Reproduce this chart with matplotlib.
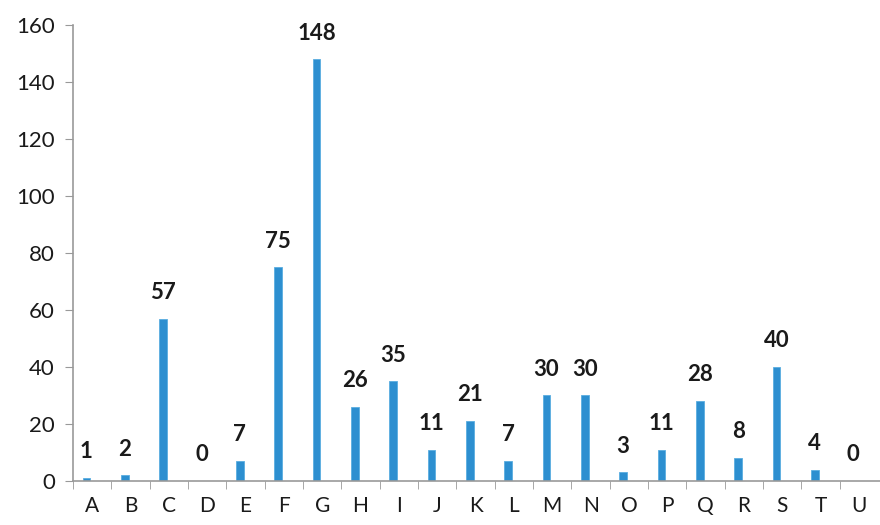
import matplotlib
matplotlib.use('Agg')
import matplotlib.pyplot as plt
import numpy as np

# categories and values
categories = list('ABCDEFGHIJKLMNOPQRSTU')
values = [1, 2, 57, 0, 7, 75, 148, 26, 35, 11, 21, 7, 30, 30, 3, 11, 28, 8, 40, 4, 0]
yticks = [0, 20, 40, 60, 80, 100, 120, 140, 160]

plt.rcParams['font.family'] = ['Lato', 'DejaVu Sans']

fig = plt.figure(figsize=(8.8, 5.25), dpi=100)
ax = fig.add_axes([0.083, 0.084, 0.917, 0.868])

x = np.arange(len(categories))
bars = ax.bar(x - 0.15, values, width=0.2, color='#2D8FD0', edgecolor='#5AAEE0', linewidth=0.6)

# value labels above each bar
for xi, v in zip(x, values):
	ax.text(xi - 0.15, v + 5.5, str(v), ha='center', va='bottom', fontsize=16, fontweight='bold', color='#1a1a1a')

ax.set_xlim(-0.5, len(categories) - 0.45)
ax.set_ylim(0, 160)
ax.set_yticks(yticks)
ax.set_yticklabels([str(t) for t in yticks], fontsize=16, color='#1a1a1a')

# category names in the middle, tick marks on the boundaries
ax.set_xticks(x)
ax.set_xticklabels(categories, fontsize=15, color='#1a1a1a')
ax.tick_params(axis='x', which='major', length=0, pad=11)
ax.set_xticks(np.arange(-0.5, len(categories) - 0.5, 1), minor=True)
ax.tick_params(axis='x', which='minor', length=6, color='#999999', direction='out')
ax.tick_params(axis='y', length=6, color='#999999', direction='out', pad=7)

for side in ['top', 'right']:
	ax.spines[side].set_visible(False)
ax.spines['left'].set_color('#999999')
ax.spines['bottom'].set_color('#999999')
ax.spines['left'].set_linewidth(1.2)
ax.spines['bottom'].set_linewidth(1.2)

fig.savefig('out.png', dpi=100)
